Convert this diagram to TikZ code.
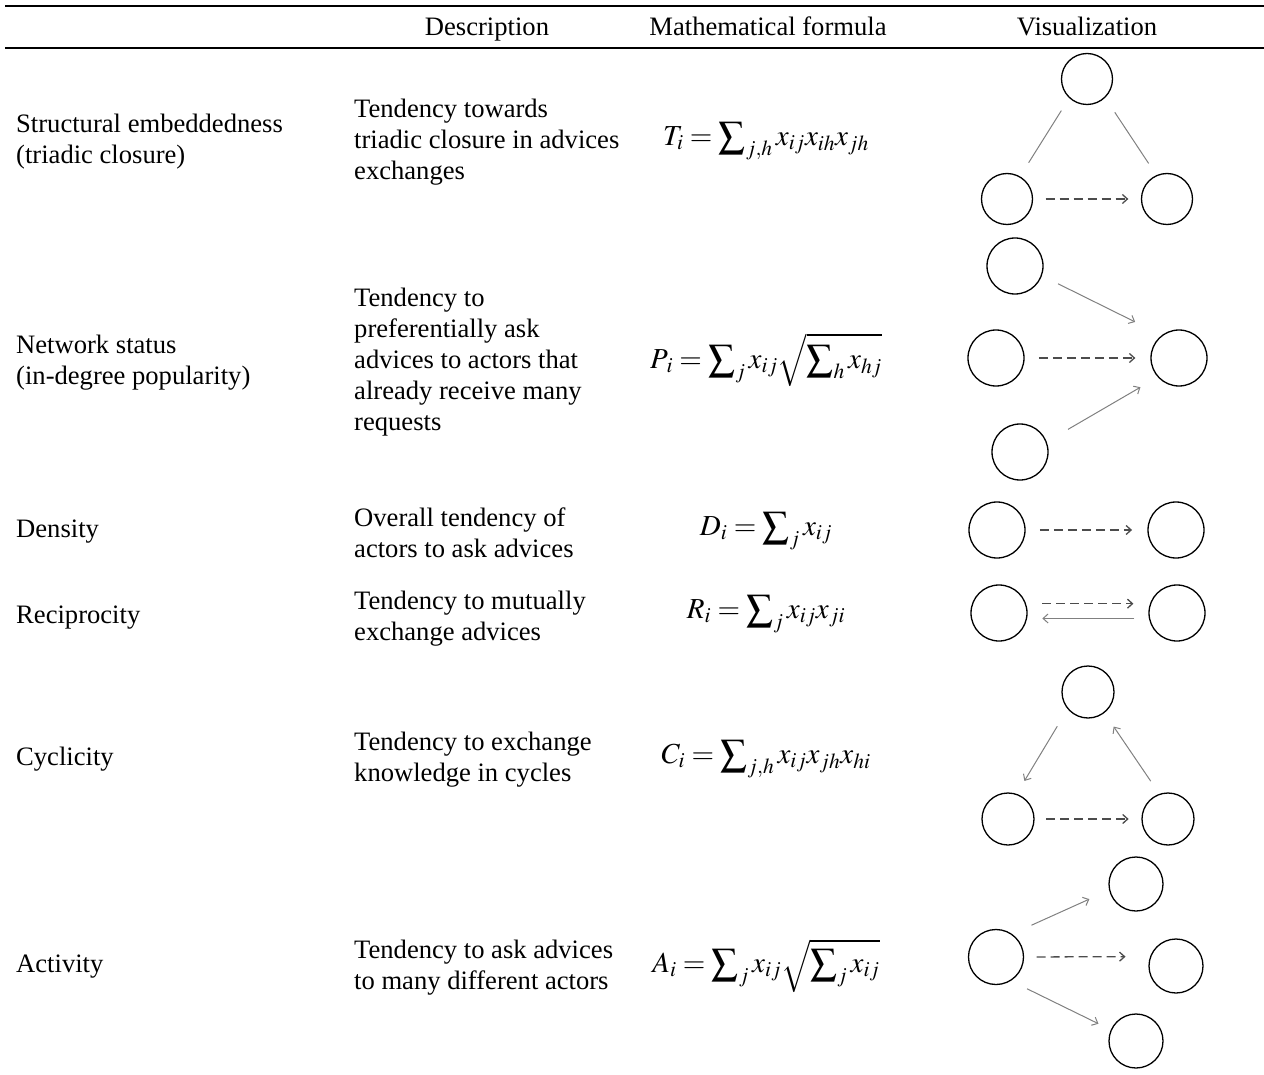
\documentclass[tikz,border=0pt]{standalone}
\usepackage{mathptmx}
\usepackage{graphicx}
\usepackage{fontspec}
\setmainfont{Liberation Serif}
\usetikzlibrary{arrows.meta}
\newcommand{\bsum}{\mathop{\vcenter{\hbox{\scalebox{1.3}{$\sum$}}}}\nolimits}

\begin{document}
\begin{tikzpicture}[x=1pt,y=-1pt,
	every node/.style={font=\fontsize{26.6}{31}\selectfont},
	header/.style={anchor=base,inner sep=0pt},
	rowname/.style={anchor=west,align=left,inner sep=0pt},
	formula/.style={inner sep=0pt,font=\fontsize{29}{31}\selectfont},
	actor/.style={circle,draw,line width=1.3pt,minimum size=56pt,inner sep=0pt},
	smallactor/.style={actor,minimum size=51pt},
	tie/.style={draw=gray,line width=1pt},
	link/.style={tie,-{Straight Barb[length=5pt,width=9pt]}},
	guess/.style={draw=black!70,line width=1.3pt,dash pattern=on 9pt off 5pt,-{Straight Barb[length=5pt,width=9pt]}}]
	\useasboundingbox (0,0) rectangle (1264,1075);
	\draw[line width=1.5pt] (5,6) -- (1264,6);
	\draw[line width=1.5pt] (5,48) -- (1264,48);
	\node[header] (hdesc) at (487,36) {Description};
	\node[header] (hform) at (768,36) {Mathematical formula};
	\node[header] (hvis) at (1087,36) {Visualization};

	\node[rowname] (se) at (16,141.5) {Structural embeddedness\\(triadic closure)};
	\node[rowname] (sed) at (354,142) {Tendency towards\\triadic closure in advices\\exchanges};
	\node[formula] (sef) at (766,141) {$T_i = \bsum_{j,h} x_{ij} x_{ih} x_{jh}$};
	\node[smallactor] (t1) at (1087,79) {};
	\node[smallactor] (t2) at (1007,199) {};
	\node[smallactor] (t3) at (1167,199) {};
	\draw[tie,shorten <=14.7pt,shorten >=16.1pt] (t1.227) -- (t2.60);
	\draw[tie,shorten <=17.4pt,shorten >=14pt] (t1.-46) -- (t3.114);
	\draw[guess,shorten <=12.5pt,shorten >=12.5pt] (t2) -- (t3);

	\node[rowname] (ns) at (16,362.5) {Network status\\(in-degree popularity)};
	\node[rowname] (nsd) at (354,362) {Tendency to\\preferentially ask\\advices to actors that\\already receive many\\requests};
	\node[formula] (nsf) at (766,360) {$P_{\,i} = \bsum_j x_{ij} \sqrt{\bsum_h x_{hj}}$};
	\node[actor] (p1) at (1015,266) {};
	\node[actor] (p2) at (996,358) {};
	\node[actor] (p3) at (1020,452) {};
	\node[actor] (p4) at (1179,358) {};
	\draw[link,shorten <=18pt,shorten >=29.7pt] (p1.-20) -- (p4.127);
	\draw[guess,shorten <=14.3pt,shorten >=15pt] (p2) -- (p4);
	\draw[link,shorten <=24.6pt,shorten >=20pt] (p3.21) -- (p4.222);

	\node[rowname] (de) at (16,532) {Density};
	\node[rowname] (ded) at (354,532.5) {Overall tendency of\\actors to ask advices};
	\node[formula] (def) at (766,531) {$D_i = \bsum_j x_{ij}$};
	\node[actor] (d1) at (997,530) {};
	\node[actor] (d2) at (1176,530) {};
	\draw[guess,shorten <=14.3pt,shorten >=15.3pt] (d1) -- (d2);

	\node[rowname] (re) at (16,618) {Reciprocity};
	\node[rowname] (red) at (354,618.5) {Tendency to mutually\\exchange advices};
	\node[formula] (ref) at (766,614) {$R_i = \bsum_j x_{ij} x_{ji}$};
	\node[actor] (r1) at (999,613) {};
	\node[actor] (r2) at (1177,613) {};
	\draw[guess,shorten <=16.2pt,shorten >=16.5pt] (r1.19) -- (r2.161);
	\draw[link,shorten <=14.5pt,shorten >=15.2pt] (r2.191) -- (r1.-11);

	\node[rowname] (cy) at (16,759) {Cyclicity};
	\node[rowname] (cyd) at (354,759.5) {Tendency to exchange\\knowledge in cycles};
	\node[formula] (cyf) at (766,759) {$C_i = \bsum_{j,h} x_{ij} x_{jh} x_{hi}$};
	\node[actor,minimum size=52pt] (c1) at (1088,692) {};
	\node[actor,minimum size=52pt] (c2) at (1008,819) {};
	\node[actor,minimum size=52pt] (c3) at (1168,819) {};
	\draw[link,shorten <=20pt,shorten >=15pt] (c1.220) -- (c2.71);
	\draw[link,shorten <=15.3pt,shorten >=16.4pt] (c3.109) -- (c1.308);
	\draw[guess,shorten <=11.7pt,shorten >=12.7pt] (c2) -- (c3);

	\node[rowname] (ac) at (16,967) {Activity};
	\node[rowname] (acd) at (354,967.5) {Tendency to ask advices\\to many different actors};
	\node[formula] (acf) at (766,966) {$A_i = \bsum_j x_{ij} \sqrt{\bsum_j x_{ij}}$};
	\node[actor,minimum size=55pt] (a1) at (996,957) {};
	\node[actor,minimum size=54pt] (a2) at (1136,884) {};
	\node[actor,minimum size=54pt] (a3) at (1176,966) {};
	\node[actor,minimum size=54pt] (a4) at (1136,1041) {};
	\draw[link,shorten <=21.2pt,shorten >=21.6pt] (a1.55) -- (a2.193);
	\draw[guess,shorten <=12.5pt,shorten >=24.5pt] (a1.0) -- (a3.160);
	\draw[link,shorten <=18pt,shorten >=13.7pt] (a1.-58) -- (a4.156);
\end{tikzpicture}
\end{document}
